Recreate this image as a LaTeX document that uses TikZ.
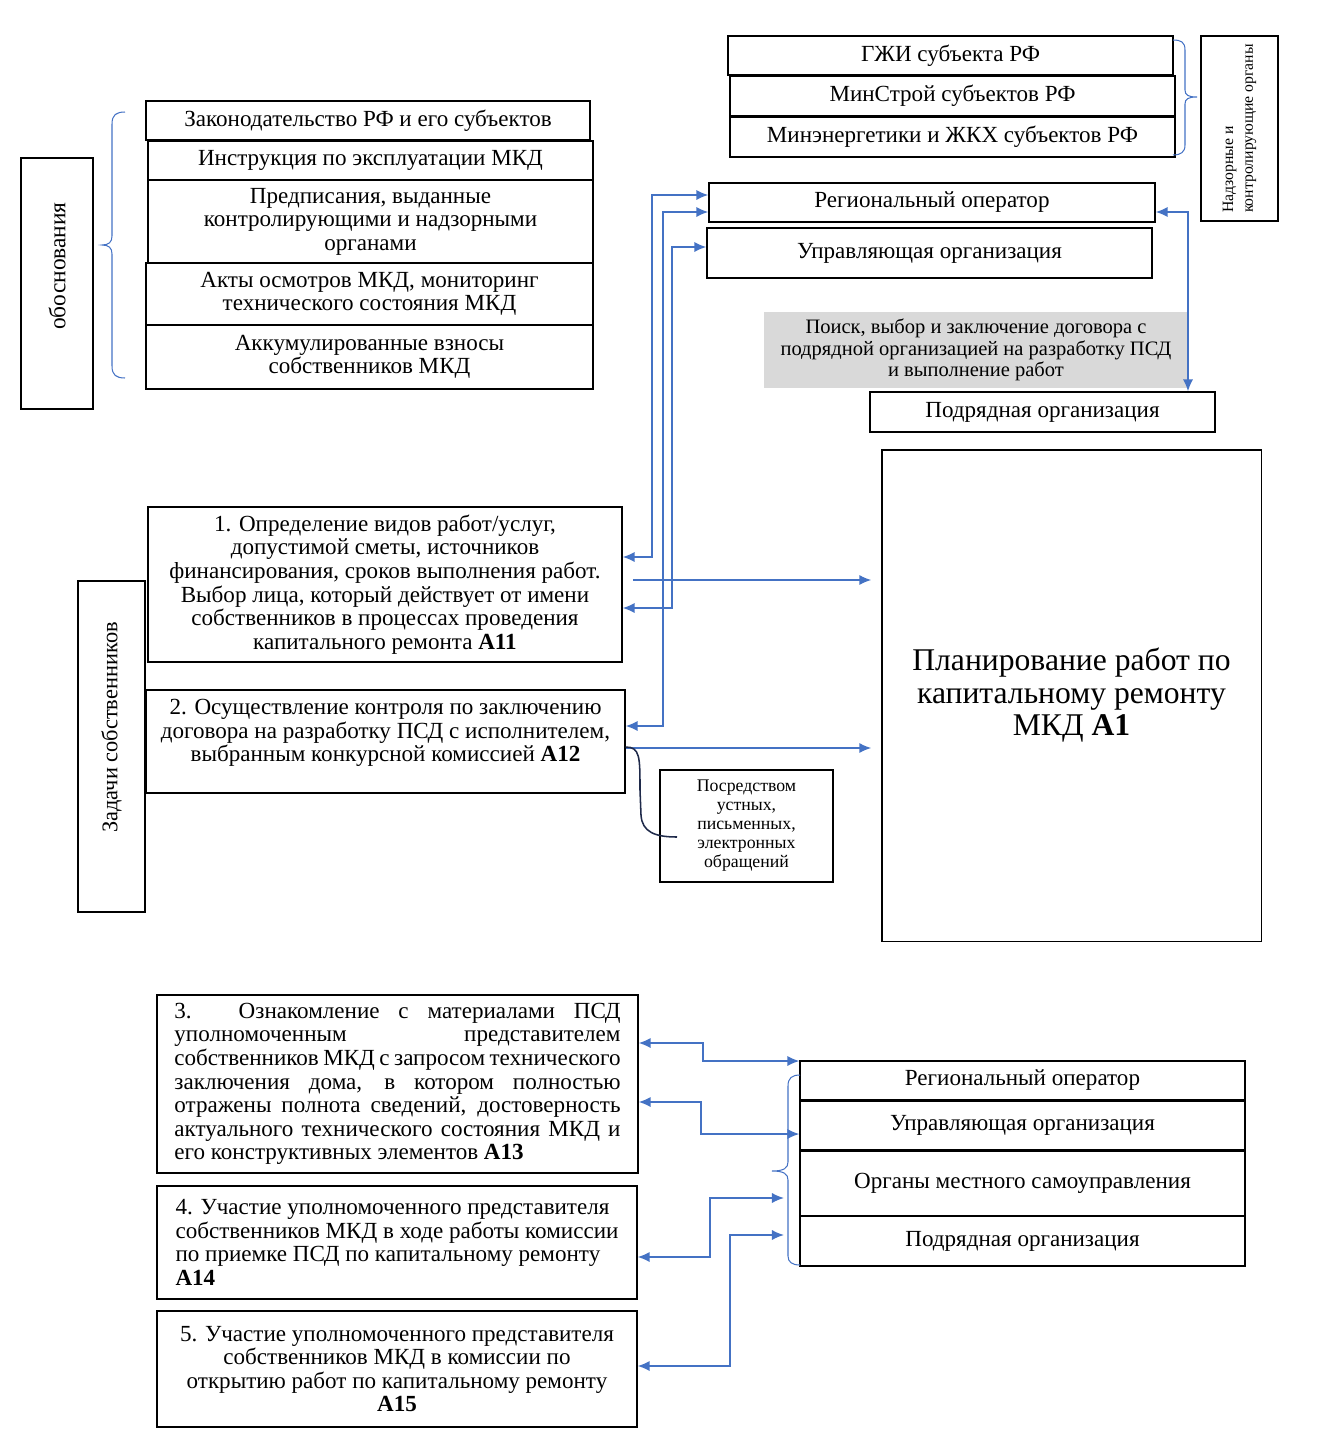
\documentclass[tikz,border=0pt]{standalone}
\usepackage{fontspec}
\setmainfont{Liberation Serif}
\usetikzlibrary{arrows.meta}

\definecolor{linkBlue}{HTML}{4472C4}
\definecolor{curveNavy}{HTML}{1F2A4A}
\definecolor{fillGray}{HTML}{D9D9D9}

\begin{document}
\begin{tikzpicture}
        [x=0.585pt, y=-0.585pt,
        wh/.style 2 args={minimum width=#1*0.585pt, minimum height=#2*0.585pt},
        box/.style={draw, line width=0.8pt, inner sep=2pt, align=center, font=\fontsize{13.5}{13.8}\selectfont},
        boxGray/.style={fill=fillGray, inner sep=2pt, align=center, font=\fontsize{12}{12.6}\selectfont},
        txt/.style={inner sep=0pt, align=center, font=\fontsize{13.5}{13.8}\selectfont},
        link/.style={draw=linkBlue, line width=0.9pt, {Latex[length=7pt,width=6pt]}-{Latex[length=7pt,width=6pt]}},
        linkOne/.style={draw=linkBlue, line width=0.9pt, -{Latex[length=7pt,width=6pt]}},
        curly/.style={draw=linkBlue, line width=0.6pt}]
        \useasboundingbox (0,0) rectangle (1329,1442);

        % justification
        \node[box, wh={72}{251}] (osnBox) at (57,283.5) {};
        \node[txt, rotate=90, font=\fontsize{13.7}{15}\selectfont] (osnText) at (57,266) {обоснования};
        \node[box, wh={444}{39}] (law) at (368,120.5) {Законодательство РФ и его субъектов};
        \node[box, wh={445}{39}] (instr) at (370.5,160.5) {Инструкция по эксплуатации МКД};
        \node[box, wh={445}{83}] (presc) at (370.5,221.5) {Предписания, выданные\\контролирующими и надзорными\\органами};
        \node[box, wh={447}{62}] (acts) at (369.5,294) {Акты осмотров МКД, мониторинг\\технического состояния МКД};
        \node[box, wh={447}{64}] (fees) at (369.5,357) {Аккумулированные взносы\\собственников МКД};
        \draw[curly] (125,112) .. controls (116,112) and (112,115) .. (112,124) -- (112,236) .. controls (112,242) and (109,245) .. (102,245) .. controls (109,245) and (112,248) .. (112,254) -- (112,366) .. controls (112,375) and (116,378) .. (125,378);

        % supervising bodies
        \node[box, wh={445}{39}] (gzhi) at (950.5,55.5) {ГЖИ субъекта РФ};
        \node[box, wh={445}{40}] (minStroy) at (952.5,96) {МинСтрой субъектов РФ};
        \node[box, wh={445}{40}] (minEnergo) at (952.5,137) {Минэнергетики и ЖКХ субъектов РФ};
        \node[box, rotate=90, wh={185}{77}, align=left, font=\fontsize{9.2}{11.5}\selectfont] (nadzor) at (1239.5,128.5) {Надзорные и\\контролирующие органы};
        \draw[curly] (1173,40) .. controls (1181,40) and (1185,42) .. (1185,50) -- (1185,90) .. controls (1185,95) and (1188,97) .. (1197,97) .. controls (1188,97) and (1185,99) .. (1185,104) -- (1185,145) .. controls (1185,152) and (1181,155) .. (1173,155);

        \node[box, wh={446}{39}] (regOp) at (932,202.5) {Региональный оператор};
        \node[box, wh={445}{50}] (uprOrg) at (929.5,253) {Управляющая организация};
        \node[boxGray, wh={424}{76}] (search) at (976,350) {Поиск, выбор и заключение договора с\\подрядной организацией на разработку ПСД\\и выполнение работ};
        \node[box, wh={345}{40}] (podr) at (1042.5,412) {Подрядная организация};
        \node[box, line width=0.6pt, wh={379}{491}, font=\fontsize{18.5}{19}\selectfont] (plan) at (1071.5,695.5) {Планирование работ по\\капитальному ремонту\\МКД \textbf{А1}};

        % owners tasks
        \node[box, wh={67}{331}] (taskBox) at (111.5,746.5) {};
        \node[txt, rotate=90, font=\fontsize{13.1}{15}\selectfont] (taskText) at (111.5,727.5) {Задачи собственников};
        \node[box, wh={474}{155}] (task1) at (385,584.5) {1. Определение видов работ/услуг,\\допустимой сметы, источников\\финансирования, сроков выполнения работ.\\Выбор лица, который действует от имени\\собственников в процессах проведения\\капитального ремонта \textbf{А11}};
        \node[box, wh={479}{103}] (task2) at (385.5,741.5) {};
        \node[txt] (task2Text) at (385.5,733) {2. Осуществление контроля по заключению\\договора на разработку ПСД с исполнителем,\\выбранным конкурсной комиссией \textbf{А12}};
        \node[box, wh={173}{112}, font=\fontsize{10.4}{11.1}\selectfont] (means) at (746.5,826) {Посредством\\устных,\\письменных,\\электронных\\обращений};

        \node[box, wh={481}{178}, align=left] (task3) at (397.5,1084) {\makebox[261pt][s]{3. Ознакомление с материалами ПСД}\\\makebox[261pt][s]{уполномоченным представителем}\\\makebox[261pt][s]{собственников МКД с запросом технического}\\\makebox[261pt][s]{заключения дома, в котором полностью}\\\makebox[261pt][s]{отражены полнота сведений, достоверность}\\\makebox[261pt][s]{актуального технического состояния МКД и}\\его конструктивных элементов \textbf{А13}};
        \node[box, wh={480}{113}, align=left] (task4) at (397,1242.5) {4. Участие уполномоченного представителя\\собственников МКД в ходе работы комиссии\\по приемке ПСД по капитальному ремонту\\\textbf{А14}};
        \node[box, wh={480}{116}] (task5) at (397,1369) {5. Участие уполномоченного представителя\\собственников МКД в комиссии по\\открытию работ по капитальному ремонту\\\textbf{А15}};

        \node[box, wh={445}{39}] (regOp2) at (1022.5,1080.5) {Региональный оператор};
        \node[box, wh={445}{49}] (uprOrg2) at (1022.5,1125.5) {Управляющая организация};
        \node[box, wh={445}{65}] (local) at (1022.5,1183.5) {Органы местного самоуправления};
        \node[box, wh={445}{50}] (podr2) at (1022.5,1241) {Подрядная организация};
        \draw[curly] (800,1075) .. controls (792,1075) and (788,1078) .. (788,1086) -- (788,1162) .. controls (788,1168) and (784,1171) .. (772,1171) .. controls (784,1171) and (788,1174) .. (788,1180) -- (788,1256) .. controls (788,1262) and (792,1265) .. (800,1265);

        % connectors
        \draw[link] (task1.east |- 0,557) -- (652,557) -- (652,195) -- (regOp.west |- 0,195);
        \draw[link] (task1.east |- 0,608) -- (672,608) -- (672,247) -- (uprOrg.west |- 0,247);
        \draw[link] (task2.east |- 0,726) -- (663,726) -- (663,212) -- (regOp.west |- 0,212);
        \draw[linkOne, shorten <=6pt, shorten >=6pt] (task1.east |- 0,580) -- (plan.west |- 0,580);
        \draw[linkOne, shorten >=6pt] (task2.east |- 0,748) -- (plan.west |- 0,748);
        \draw[link] (regOp.east |- 0,212) -- (1188,212) -- (podr.north -| 1188,0);

        \coordinate (meansPin) at (677,837);
        \draw[curveNavy, line width=0.9pt] (task2.east |- 0,747) .. controls (640,747) and (640,757) .. (640,790) -- (641,815) .. controls (642,832) and (655,837) .. (meansPin);

        \draw[link] (task3.east |- 0,1043) -- (703,1043) -- (703,1061) -- (regOp2.west |- 0,1061);
        \draw[link] (task3.east |- 0,1102) -- (701,1102) -- (701,1134) -- (uprOrg2.west |- 0,1134);
        \draw[link, shorten >=9pt] (task4.east |- 0,1257) -- (710,1257) -- (710,1198) -- (local.west |- 0,1198);
        \draw[link, shorten >=9pt] (task5.east |- 0,1366) -- (730,1366) -- (730,1235) -- (podr2.west |- 0,1235);

    \end{tikzpicture}
\end{document}
